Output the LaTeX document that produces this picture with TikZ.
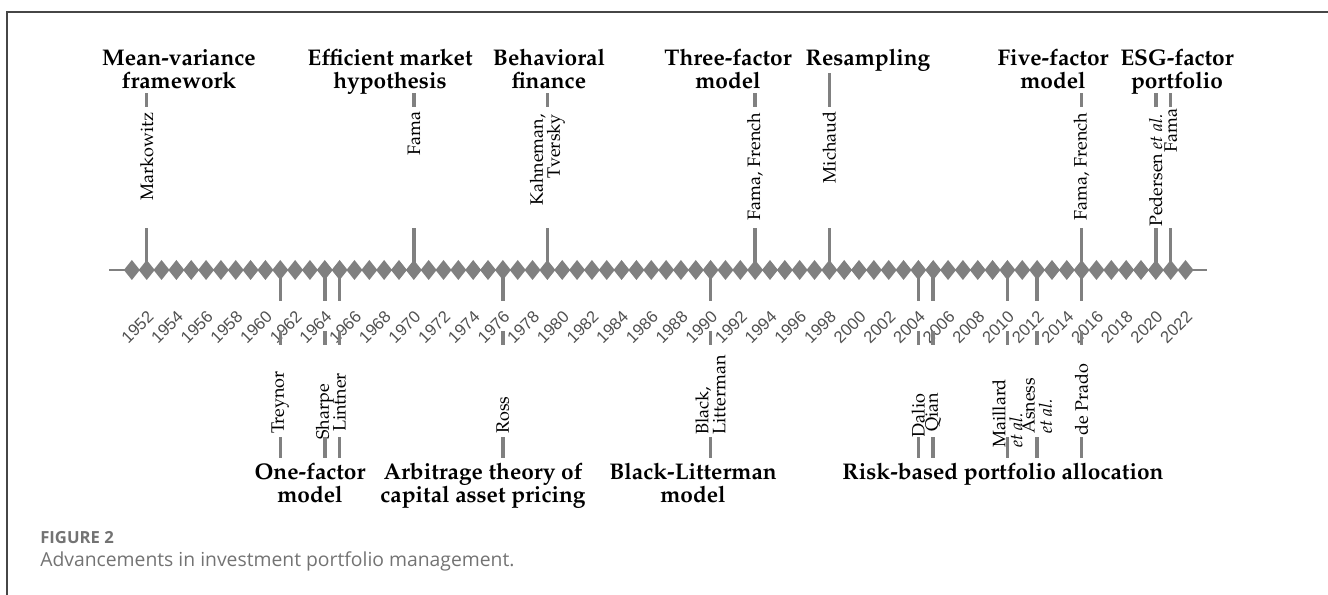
\documentclass[tikz,border=0pt]{standalone}
\usepackage[T1]{fontenc}
\usepackage{fontspec}
\setsansfont{Liberation Sans}
\newfontfamily\capfont{Open Sans}
\newcommand\palfont{\fontencoding{T1}\fontfamily{ppl}\selectfont}
% x position of a year on the axis
\newcommand\yx[1]{146.7+(#1-1952)*14.84}

\definecolor{stemgray}{RGB}{128,128,128}
\definecolor{yeargray}{RGB}{80,80,80}
\definecolor{framegray}{RGB}{70,70,70}
\definecolor{capgray}{RGB}{115,115,115}

\tikzset{
  stem/.style={stemgray, line width=2.6pt},
  milestone/.style={font=\palfont\bfseries\fontsize{17}{17.3}\selectfont, align=center, inner sep=0pt},
  author/.style={font=\palfont\fontsize{13.5}{12.8}\selectfont, rotate=90, inner sep=0pt},
  yearlabel/.style={font=\sffamily\fontsize{12.5}{15}\selectfont, text=yeargray, rotate=45, anchor=east, inner sep=0pt},
}

\begin{document}
\begin{tikzpicture}[x=0.75pt, y=-0.75pt]
\useasboundingbox (0,0) rectangle (1328,595);

% frame
\draw[framegray, line width=0.9pt] (7,595) -- (7,12) -- (1328,12);

% axis
\draw[stemgray, line width=1.1pt] (109,270) -- (1207,270);
\foreach \y in {1951,...,2022}
  \fill[stemgray] ({\yx{\y}-8},270) -- ({\yx{\y}},260) -- ({\yx{\y}+8},270) -- ({\yx{\y}},280) -- cycle;

% years
\foreach \y in {1952,1954,...,2022}
  \node[yearlabel] (yr\y) at ({\yx{\y}+4},314) {\y};

% upper milestones
\node[milestone, anchor=north] (meanvar) at (179,49) {Mean-variance\\framework};
\node[milestone, anchor=north] (emh) at (390,49) {Efficient market\\hypothesis};
\node[milestone, anchor=north] (behav) at (549,49) {Behavioral\\finance};
\node[milestone, anchor=north] (threef) at (728,49) {Three-factor\\model};
\node[milestone, anchor=north] (resamp) at (868,49) {Resampling};
\node[milestone, anchor=north] (fivef) at (1053,49) {Five-factor\\model};
\node[milestone, anchor=north] (esg) at (1177,49) {ESG-factor\\portfolio};

\node[author, anchor=east, xshift=-1.5pt] (markowitz) at ({\yx{1952}},110) {Markowitz};
\node[author, anchor=east, xshift=-1pt] (fama70) at ({\yx{1970}},110) {Fama};
\node[author, anchor=east, align=right, xshift=-3pt] (kahneman) at ({\yx{1979}},110) {Kahneman,\\Tversky};
\node[author, anchor=east, xshift=-2pt] (famafr93) at ({\yx{1993}},110) {Fama, French};
\node[author, anchor=east, xshift=-1pt] (michaud) at ({\yx{1998}},110) {Michaud};
\node[author, anchor=east, xshift=-2pt] (famafr15) at ({\yx{2015}},110) {Fama, French};
\node[author, anchor=east, xshift=-3pt] (pedersen) at ({\yx{2020}},110) {Pedersen \textit{et al.}};
\node[author, anchor=east, xshift=1pt] (fama21) at ({\yx{2021}},110) {Fama};

\foreach \nm/\y in {markowitz/1952, fama70/1970, kahneman/1979, famafr93/1993,
                    michaud/1998, famafr15/2015, pedersen/2020, fama21/2021}{
  \coordinate (ax\nm) at ({\yx{\y}},270);
  \draw[stem] (ax\nm) -- ++(0,-42);
  \draw[stem] (ax\nm) ++(0,-163) -- ++(0,-14);
}
\draw[stem] (axmichaud) ++(0,-177) -- ++(0,-20);

% lower milestones
\node[milestone, anchor=north] (onef) at (310,463) {One-factor\\model};
\node[milestone, anchor=north] (apt) at (483,463) {Arbitrage theory of\\capital asset pricing};
\node[milestone, anchor=north] (blacklit) at (693,463) {Black-Litterman\\model};
\node[milestone, anchor=north] (riskb) at (1003,463) {Risk-based portfolio allocation};

\node[author, anchor=west, xshift=-1.5pt] (treynor) at ({\yx{1961}},432) {Treynor};
\node[author, anchor=west, xshift=-6pt] (sharpe) at ({\yx{1964}},432) {Sharpe};
\node[author, anchor=west] (lintner) at ({\yx{1965}},432) {Lintner};
\node[author, anchor=west, xshift=-1.5pt] (ross) at ({\yx{1976}},432) {Ross};
\node[author, anchor=west, align=left, xshift=-2pt] (black) at ({\yx{1990}},432) {Black,\\Litterman};
\node[author, anchor=west, xshift=-4pt] (dalio) at ({\yx{2004}},432) {Dalio};
\node[author, anchor=west] (qian) at ({\yx{2005}},432) {Qian};
\node[author, anchor=west, align=left, xshift=-12pt] (maillard) at ({\yx{2010}},432) {Maillard\\\textit{et al.}};
\node[author, anchor=west, align=left, xshift=-1.5pt] (asness) at ({\yx{2012}},432) {Asness\\\textit{et al.}};
\node[author, anchor=west, xshift=-3pt] (deprado) at ({\yx{2015}},432) {de Prado};

\foreach \nm/\y in {treynor/1961, sharpe/1964, lintner/1965, ross/1976, black/1990,
                    dalio/2004, qian/2005, maillard/2010, asness/2012, deprado/2015}{
  \coordinate (ax\nm) at ({\yx{\y}},270);
  \draw[stem] (ax\nm) -- ++(0,31);
  \draw[stem] (ax\nm) ++(0,61) -- ++(0,14);
  \draw[stem] (ax\nm) ++(0,167) -- ++(0,21);
}

% caption
\node[font=\capfont\bfseries\fontsize{12.5}{14}\selectfont, text=capgray, anchor=base west, inner sep=0pt] (fig) at (40,543) {FIGURE 2};
\node[font=\capfont\fontsize{14.5}{16}\selectfont, text=capgray, anchor=base west, inner sep=0pt] (cap) at (40,566) {Advancements in investment portfolio management.};

\end{tikzpicture}
\end{document}
